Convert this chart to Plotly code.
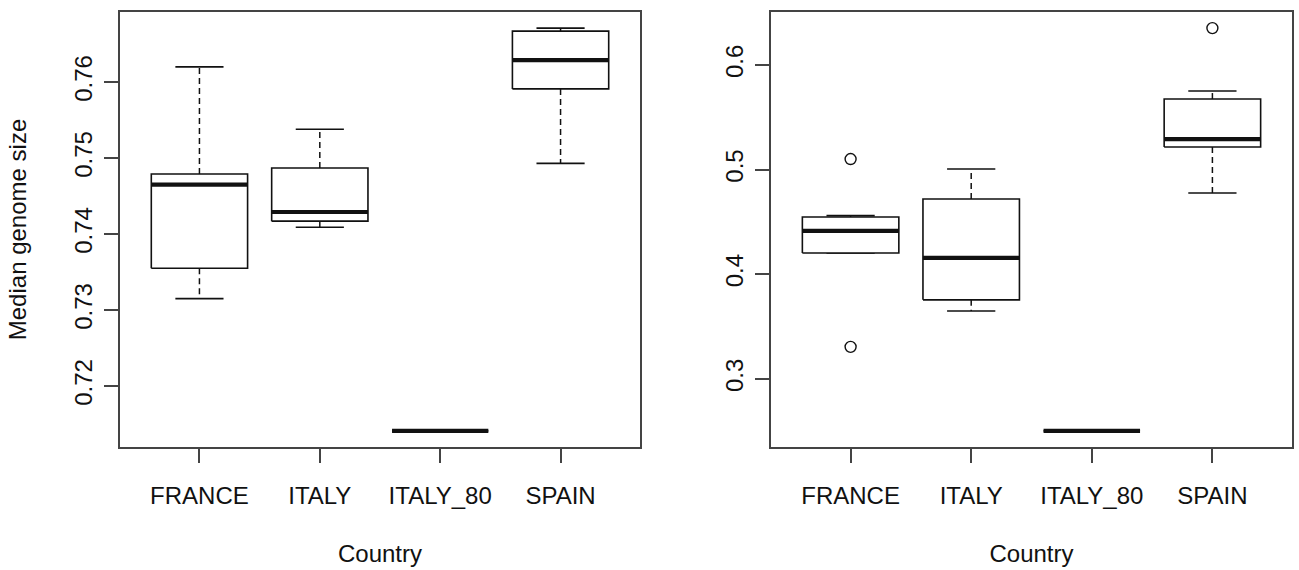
import plotly.graph_objects as go

# Country groups (shared by both panels)
countries = ["FRANCE", "ITALY", "ITALY_80", "SPAIN"]

# Left panel: five-number summaries per country
left_lower = [0.7315, 0.7409, 0.7141, 0.7493]
left_q1 = [0.7355, 0.7417, 0.7141, 0.7591]
left_median = [0.7465, 0.7429, 0.7141, 0.7629]
left_q3 = [0.7479, 0.7487, 0.7141, 0.7667]
left_upper = [0.7620, 0.7538, 0.7141, 0.7671]
left_outliers = [[], [], [], []]
left_ticks = [0.72, 0.73, 0.74, 0.75, 0.76]

# Right panel: five-number summaries per country
right_lower = [0.4203, 0.3649, 0.2503, 0.4776]
right_q1 = [0.4203, 0.3755, 0.2503, 0.5216]
right_median = [0.4414, 0.4156, 0.2503, 0.5292]
right_q3 = [0.4547, 0.4719, 0.2503, 0.5674]
right_upper = [0.4560, 0.5006, 0.2503, 0.5751]
right_outliers = [[0.5101, 0.3306], [], [], [0.6352]]
right_ticks = [0.3, 0.4, 0.5, 0.6]

FONT = "Liberation Sans, Arial, Helvetica, sans-serif"
INK = "#111111"
HALF = 0.4  # half box width, in category units


def add_panel(fig, col, lower, q1, med, q3, upper, outliers):
    xa, ya = ("x", "y") if col == 1 else ("x2", "y2")
    line = lambda w, dash=None: dict(color=INK, width=w, dash=dash)
    for i, name in enumerate(countries):
        x = i + 1
        # dashed whiskers
        for a, b in ((q3[i], upper[i]), (q1[i], lower[i])):
            fig.add_trace(go.Scatter(x=[x, x], y=[a, b], mode="lines",
                                     line=line(1.5, "6px,4px"),
                                     xaxis=xa, yaxis=ya, hoverinfo="skip"))
        # whisker caps
        for v in (lower[i], upper[i]):
            fig.add_trace(go.Scatter(x=[x - HALF / 2, x + HALF / 2], y=[v, v],
                                     mode="lines", line=line(1.6),
                                     xaxis=xa, yaxis=ya, hoverinfo="skip"))
        # box
        fig.add_trace(go.Scatter(
            x=[x - HALF, x + HALF, x + HALF, x - HALF, x - HALF],
            y=[q1[i], q1[i], q3[i], q3[i], q1[i]],
            mode="lines", line=line(1.6), fill="toself", fillcolor="white",
            xaxis=xa, yaxis=ya, name=name, hoverinfo="skip"))
        # median
        fig.add_trace(go.Scatter(x=[x - HALF, x + HALF], y=[med[i], med[i]],
                                 mode="lines", line=line(4.2),
                                 xaxis=xa, yaxis=ya, hoverinfo="skip"))
        # outliers
        if outliers[i]:
            fig.add_trace(go.Scatter(
                x=[x] * len(outliers[i]), y=outliers[i], mode="markers",
                marker=dict(symbol="circle-open", size=11, color=INK,
                            line=dict(color=INK, width=1.4)),
                xaxis=xa, yaxis=ya, hoverinfo="skip"))


def y_range(vals):
    lo, hi = min(vals), max(vals)
    pad = 0.04 * (hi - lo)
    return [lo - pad, hi + pad]


fig = go.Figure()
add_panel(fig, 1, left_lower, left_q1, left_median, left_q3, left_upper, left_outliers)
add_panel(fig, 2, right_lower, right_q1, right_median, right_q3, right_upper, right_outliers)

left_all = left_lower + left_upper + [v for o in left_outliers for v in o]
right_all = right_lower + right_upper + [v for o in right_outliers for v in o]

axis_font = dict(family=FONT, size=24, color=INK)
common_x = dict(range=[0.34, 4.66], tickvals=[1, 2, 3, 4], ticktext=countries,
                showgrid=False, zeroline=False, showline=True, mirror=True,
                linecolor="#444444", linewidth=1.5, ticks="outside", ticklen=14,
                tickwidth=1.5, tickcolor="#444444", tickfont=axis_font,
                ticklabelstandoff=12,
                title=dict(text="Country", font=axis_font, standoff=38))
common_y = dict(showgrid=False, zeroline=False, showline=True, mirror=True,
                linecolor="#444444", linewidth=1.5, ticks="outside", ticklen=14,
                tickwidth=1.5, tickcolor="#444444", tickfont=axis_font,
                tickangle=-90, ticklabelstandoff=3)

fig.update_layout(
    width=1299, height=570,
    margin=dict(l=0, r=0, t=0, b=0),
    paper_bgcolor="white", plot_bgcolor="white",
    showlegend=False,
    font=dict(family=FONT, color=INK),
    xaxis=dict(domain=[120 / 1299, 640 / 1299], anchor="y", automargin=False, **common_x),
    xaxis2=dict(domain=[771 / 1299, 1292 / 1299], anchor="y2", automargin=False, **common_x),
    yaxis=dict(domain=[123 / 570, 558 / 570], anchor="x", automargin=False,
               range=y_range(left_all), tickvals=left_ticks,
               ticktext=[f"{t:.2f}" for t in left_ticks],
               title=dict(text="Median genome size", font=axis_font, standoff=36),
               **common_y),
    yaxis2=dict(domain=[123 / 570, 558 / 570], anchor="x2", automargin=False,
                range=y_range(right_all), tickvals=right_ticks,
                ticktext=[f"{t:.1f}" for t in right_ticks], **common_y),
)

fig.write_html("out.html")
